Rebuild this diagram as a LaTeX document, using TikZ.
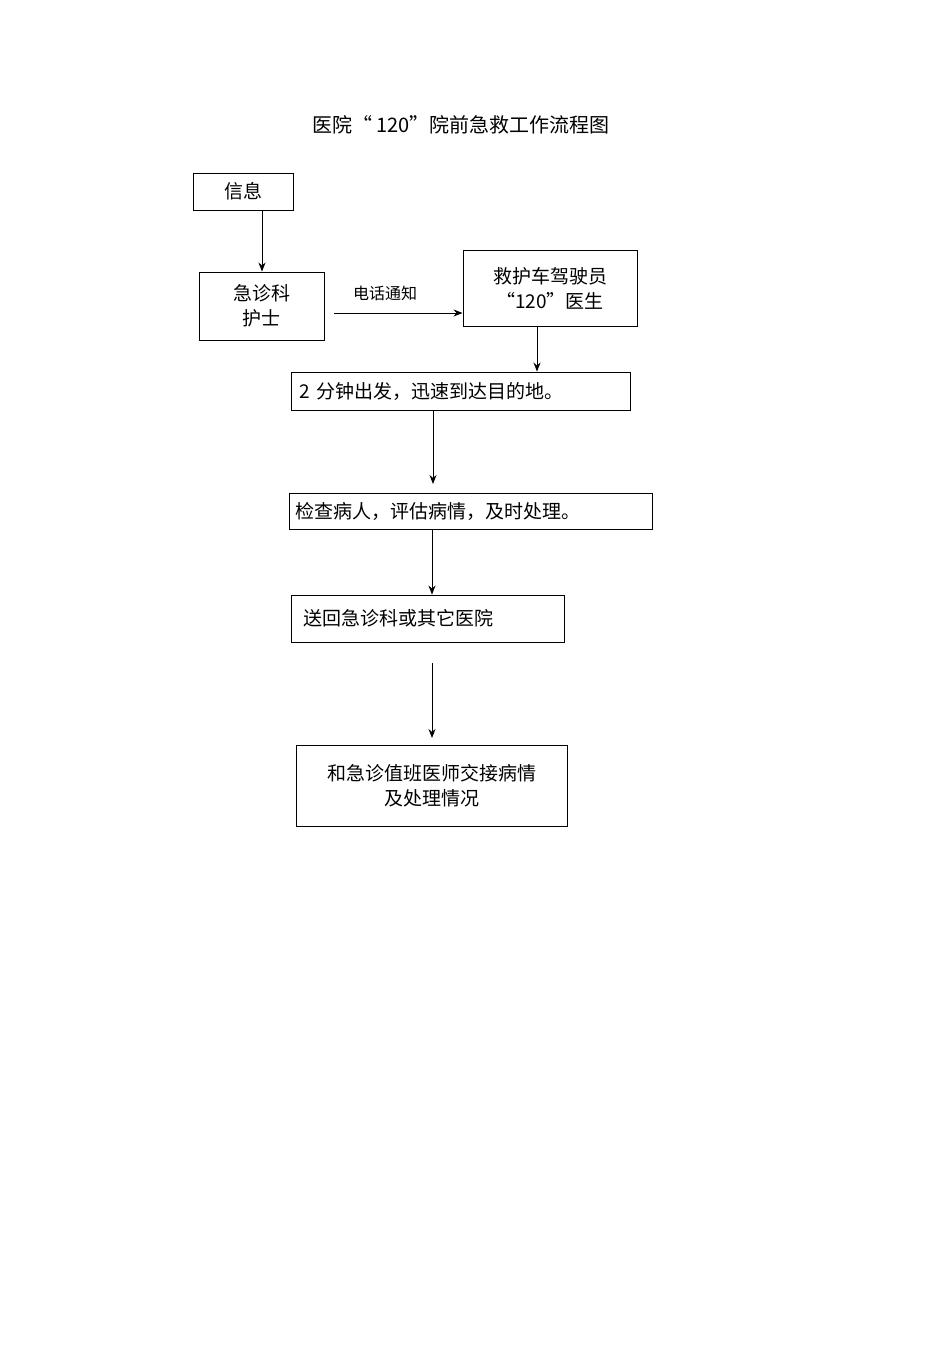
\documentclass[tikz,border=0pt]{standalone}
\usepackage{fontspec}
\setmainfont{Noto Sans CJK SC}
\usetikzlibrary{arrows.meta}
\begin{document}
\begin{tikzpicture}[x=1pt,y=-1pt,
  box/.style={draw,line width=0.9pt,inner sep=0pt,font=\fontsize{19}{25}\selectfont},
  arr/.style={line width=1pt,-{Stealth[length=9pt,width=7pt]}}]
\useasboundingbox (0,0) rectangle (950,1345);
\node[font=\fontsize{20}{24}\selectfont] (title) at (461,125) {医院“ 120”院前急救工作流程图};
\node[box,minimum width=100,minimum height=37] (info) at (243,191.5) {信息};
\node[box,minimum width=125,minimum height=68,align=center] (nurse) at (261.5,306) {急诊科\\护士};
\node[box,minimum width=174,minimum height=76,align=center] (amb) at (550,288) {救护车驾驶员\\“120”医生};
\node[box,minimum width=339,minimum height=38,text width=322,align=left] (go) at (460.5,391) {2 分钟出发，迅速到达目的地。};
\node[box,minimum width=363,minimum height=36,text width=350,align=left] (check) at (470.5,511) {检查病人，评估病情，及时处理。};
\node[box,minimum width=273,minimum height=47,text width=248,align=left] (back) at (427.5,618.5) {送回急诊科或其它医院};
\node[box,minimum width=271,minimum height=81,align=center] (hand) at (431.5,785.5) {和急诊值班医师交接病情\\及处理情况};
\node[font=\fontsize{16}{20}\selectfont] (lbl) at (385,293) {电话通知};
\coordinate (a1) at (334,313);
\coordinate (b1) at (433,484);
\coordinate (c1) at (432,663);
\coordinate (c2) at (432,738);
\draw[arr] (info.south -| 262,0) -- (nurse.north -| 262,0);
\draw[arr] (a1) -- (amb.west |- a1);
\draw[arr] (amb.south -| 537,0) -- (go.north -| 537,0);
\draw[arr] (go.south -| b1) -- (b1);
\draw[arr] (check.south -| 432,0) -- (back.north -| 432,0);
\draw[arr] (c1) -- (c2);
\end{tikzpicture}
\end{document}
